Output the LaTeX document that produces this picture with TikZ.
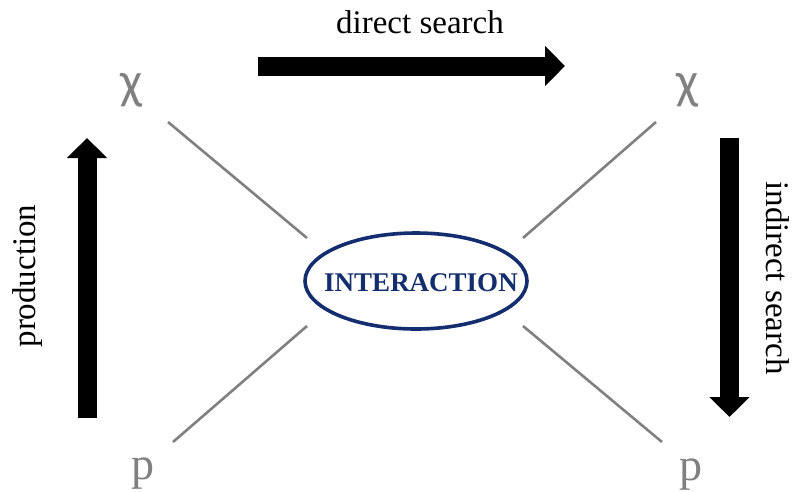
\documentclass[tikz,border=0pt]{standalone}
\usepackage{fontspec}
\setmainfont{Liberation Serif}
\newfontfamily\greekfont{Carlito}
\usetikzlibrary{arrows.meta}
\definecolor{navy}{RGB}{20,45,110}
\definecolor{particle}{RGB}{128,128,128}
\tikzset{
  leg/.style={draw=particle, line width=2.6pt},
  partlbl/.style={text=particle, inner sep=0pt, anchor=base},
  bigarrow/.style={draw=black, line width=19pt, -{Triangle[length=20pt,width=39pt]}},
  arrowlbl/.style={inner sep=0pt, font=\fontsize{33}{36}\selectfont},
  vertexlbl/.style={inner sep=0pt, text=navy,
    font=\fontsize{27}{30}\selectfont\bfseries},
  vertexrim/.style={draw=navy, line width=3.6pt}
}
\begin{document}
\begin{tikzpicture}[x=1pt,y=-1pt]
\useasboundingbox (0,0) rectangle (800,491);

% central interaction vertex
\node[vertexlbl] (int) at (421,283) {INTERACTION};
\draw[vertexrim] (416,281) ellipse [x radius=111, y radius=48];

% external particles
\node[partlbl, font=\greekfont\fontsize{52}{56}\selectfont] (chiL) at (132,98) {χ};
\node[partlbl, font=\greekfont\fontsize{52}{56}\selectfont] (chiR) at (688,98) {χ};
\node[partlbl, font=\fontsize{46}{50}\selectfont] (pL) at (143,479) {p};
\node[partlbl, font=\fontsize{46}{50}\selectfont] (pR) at (691,480) {p};

% leg end points
\coordinate (tlA) at (168,122);  \coordinate (tlB) at (307,238);
\coordinate (trA) at (656,122);  \coordinate (trB) at (523,238);
\coordinate (blA) at (173,442);  \coordinate (blB) at (307,326);
\coordinate (brA) at (662,442);  \coordinate (brB) at (523,326);
\draw[leg] (tlA) -- (tlB);
\draw[leg] (trA) -- (trB);
\draw[leg] (blA) -- (blB);
\draw[leg] (brA) -- (brB);

% search channels
\coordinate (dsA) at (258,66);   \coordinate (dsB) at (565,66);
\coordinate (prA) at (87,418);   \coordinate (prB) at (87,138);
\coordinate (isA) at (729.5,138); \coordinate (isB) at (729.5,417);
\draw[bigarrow] (dsA) -- (dsB);
\draw[bigarrow] (prA) -- (prB);
\draw[bigarrow] (isA) -- (isB);

\node[arrowlbl, anchor=base] (dslbl) at (420,33) {direct search};
\node[arrowlbl, rotate=90] (prlbl) at (28,276) {production};
\node[arrowlbl, rotate=-90] (islbl) at (778,278) {indirect search};
\end{tikzpicture}
\end{document}
